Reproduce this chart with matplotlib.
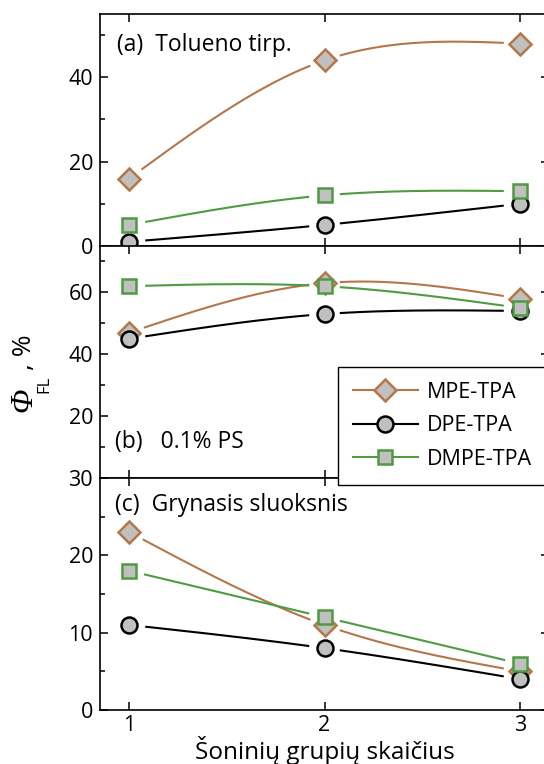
import matplotlib
matplotlib.use("Agg")
import matplotlib.pyplot as plt
from matplotlib.lines import Line2D
from matplotlib.ticker import MultipleLocator
import numpy as np

# -----------------------------
# Data: fluorescence quantum yield vs number of side groups
# -----------------------------
n_groups = [1, 2, 3]

# (a) toluene solution
tol_mpe = [16, 44, 48]
tol_dpe = [1, 5, 10]
tol_dmpe = [5, 12, 13]

# (b) 0.1% in PS
ps_mpe = [47, 63, 58]
ps_dpe = [45, 53, 54]
ps_dmpe = [62, 62, 55]

# (c) neat film
neat_mpe = [23, 11, 5]
neat_dpe = [11, 8, 4]
neat_dmpe = [18, 12, 6]

series_names = ["MPE-TPA", "DPE-TPA", "DMPE-TPA"]
panel_labels = ["(a)  Tolueno tirp.", "(b)   0.1% PS", "(c)  Grynasis sluoksnis"]

BROWN = "#b5764a"
GREEN = "#4e9b41"
FILL = "#c0c0c0"

styles = [
    dict(color=BROWN, marker="D", ms=11.5),
    dict(color="black", marker="o", ms=11.5),
    dict(color=GREEN, marker="s", ms=10.5),
]

plt.rcParams["font.family"] = ["Open Sans", "DejaVu Sans"]


def natural_spline(x, y, n=300):
    """Natural cubic spline through the points, sampled densely."""
    x = np.asarray(x, float)
    y = np.asarray(y, float)
    k = len(x)
    h = np.diff(x)
    A = np.zeros((k, k))
    b = np.zeros(k)
    A[0, 0] = A[-1, -1] = 1.0
    for i in range(1, k - 1):
        A[i, i - 1] = h[i - 1]
        A[i, i] = 2 * (h[i - 1] + h[i])
        A[i, i + 1] = h[i]
        b[i] = 6 * ((y[i + 1] - y[i]) / h[i] - (y[i] - y[i - 1]) / h[i - 1])
    M = np.linalg.solve(A, b)
    xs = np.linspace(x[0], x[-1], n)
    idx = np.clip(np.searchsorted(x, xs) - 1, 0, k - 2)
    x0, x1 = x[idx], x[idx + 1]
    hh = x1 - x0
    t0 = x1 - xs
    t1 = xs - x0
    ys = (M[idx] * t0 ** 3 + M[idx + 1] * t1 ** 3) / (6 * hh) \
        + (y[idx] / hh - M[idx] * hh / 6) * t0 \
        + (y[idx + 1] / hh - M[idx + 1] * hh / 6) * t1
    return xs, ys


GAP_PX = 16  # line stops this far from each symbol centre

fig = plt.figure(figsize=(5.44, 7.64), dpi=100)

left = 100 / 544
width = (549 - 100) / 544
panel_h = 232 / 764
bottoms = [1 - 246 / 764, 1 - 478 / 764, 1 - 710 / 764]

panels = [
    ([tol_mpe, tol_dpe, tol_dmpe], (0, 55), [0, 20, 40], 10),
    ([ps_mpe, ps_dpe, ps_dmpe], (0, 75), [20, 40, 60], 10),
    ([neat_mpe, neat_dpe, neat_dmpe], (0, 30), [0, 10, 20, 30], 5),
]
# label anchor (left x px, centre y px)
label_pos = [(117, 45), (115, 442), (115, 505)]

axes = []
for p, (data, ylim, yticks, minor) in enumerate(panels):
    ax = fig.add_axes([left, bottoms[p], width, panel_h])
    ax.set_xlim(0.85, 3.15)
    ax.set_ylim(*ylim)
    ax.set_yticks(yticks)
    ax.yaxis.set_minor_locator(MultipleLocator(minor))
    ax.set_xticks(n_groups)
    ax.tick_params(which="both", direction="in", top=True, right=True,
                   labelsize=15.5, width=1.1, pad=5)
    ax.tick_params(axis="x", pad=3.5)
    ax.tick_params(which="major", length=6)
    ax.tick_params(which="minor", length=3.5)
    for s in ax.spines.values():
        s.set_linewidth(1.2)
    if p < 2:
        ax.tick_params(labelbottom=False)

    for vals, st in zip(data, styles):
        xs, ys = natural_spline(n_groups, vals)
        curve = ax.transData.transform(np.column_stack([xs, ys]))
        pts = ax.transData.transform(np.column_stack([n_groups, vals]))
        d = np.min(np.hypot(curve[:, None, 0] - pts[None, :, 0],
                            curve[:, None, 1] - pts[None, :, 1]), axis=1)
        ys = np.where(d < GAP_PX, np.nan, ys)
        ax.plot(xs, ys, color=st["color"], lw=1.5, zorder=2)
        ax.plot(n_groups, vals, linestyle="none", marker=st["marker"],
                ms=st["ms"], mfc=FILL, mec=st["color"], mew=1.8, zorder=3)

    lx, ly = label_pos[p]
    fig.text(lx / 544, 1 - ly / 764, panel_labels[p],
             fontsize=16.5, ha="left", va="center")
    axes.append(ax)

axes[-1].set_xlabel("Šoninių grupių skaičius", fontsize=17.5, labelpad=0)

# y label: italic Phi with FL subscript, then ", %"
fig.text(24 / 544, 1 - 400 / 764, "Φ", rotation=90, fontsize=23,
         fontstyle="italic", family="Liberation Serif", ha="center", va="center")
fig.text(44 / 544, 1 - 384 / 764, "FL", rotation=90, fontsize=12,
         ha="center", va="center")
fig.text(25 / 544, 1 - 352 / 764, ", %", rotation=90, fontsize=19,
         ha="center", va="center")

handles = [Line2D([], [], color=st["color"], lw=1.5, marker=st["marker"],
                  ms=st["ms"], mfc=FILL, mec=st["color"], mew=1.8)
           for st in styles]
leg = fig.legend(handles, series_names, loc="lower left",
                 bbox_to_anchor=(338 / 544, 1 - 485 / 764),
                 fontsize=15.5, frameon=True, fancybox=False, framealpha=1,
                 edgecolor="black", handlelength=3.0, borderpad=0.7,
                 labelspacing=0.58, handletextpad=0.45, borderaxespad=0)
leg.get_frame().set_linewidth(1.0)

fig.savefig("out.png", dpi=100)
